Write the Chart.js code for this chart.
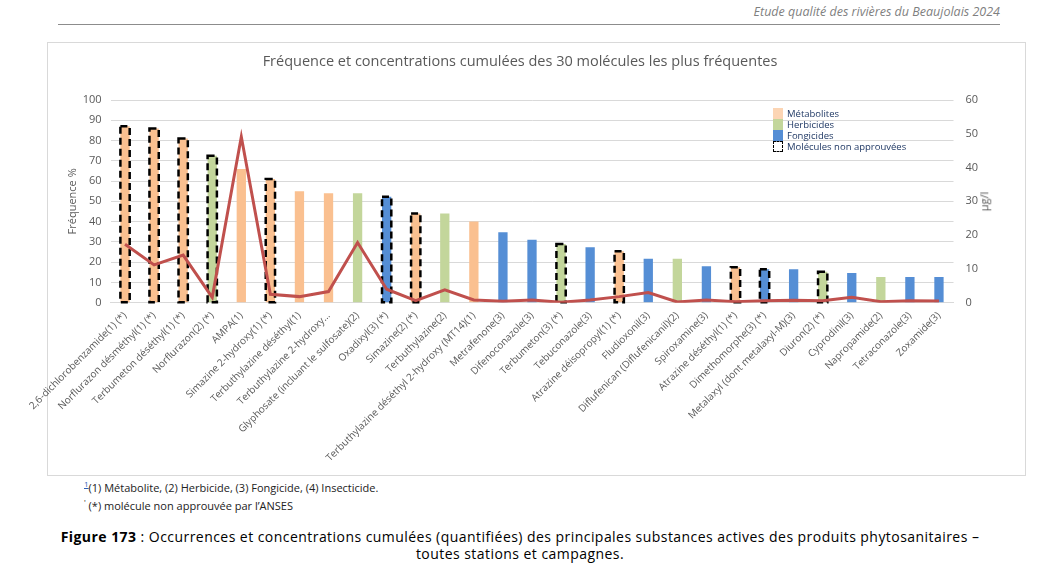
<!DOCTYPE html>
<html lang="fr">
<head>
<meta charset="utf-8">
<script src="https://cdn.jsdelivr.net/npm/chart.js@4.4.1/dist/chart.umd.min.js"></script>
<style>
  body { margin: 0; width: 1044px; height: 575px; background: #fff; font-family: "Open Sans", sans-serif; position: relative; overflow: hidden; }
  .abs { position: absolute; }
  #header { right: 44px; top: 3px; font-size: 12.5px; font-style: italic; color: #7f7f7f; }
  #header-line { left: 58px; top: 24px; width: 942px; height: 1px; background: #8c8c8c; }
  #frame { left: 47px; top: 42px; width: 977px; height: 432px; border: 1px solid #d9d9d9; }
  #chart-wrap { left: 20px; top: 42px; width: 1005px; height: 433px; }
  #title { left: 47px; top: 51px; width: 946px; text-align: center; font-size: 14.5px; color: #595959; }
  #unit { left: 974px; top: 194px; font-size: 11px; color: #595959; transform: rotate(-90deg); transform-origin: center; }
  #legend { left: 773px; top: 108px; font-size: 9.5px; color: #1f3864; line-height: 11px; }
  #legend div { display: flex; align-items: center; height: 11px; }
  #legend span.sw { display: inline-block; width: 10px; height: 11px; margin-right: 4px; box-sizing: border-box; }
  #notes { left: 84px; top: 477px; font-size: 11px; color: #222; line-height: 14px; }
  #notes .ref { color: #2e5fb5; text-decoration: underline; font-size: 8px; vertical-align: super; }
  #caption { left: 20px; top: 528px; width: 1000px; text-align: center; font-size: 14px; letter-spacing: 0.45px; color: #000; line-height: 17px; }
</style>
</head>
<body>
<div id="header" class="abs">Etude qualité des rivières du Beaujolais 2024</div>
<div id="header-line" class="abs"></div>
<div id="frame" class="abs"></div>
<div id="chart-wrap" class="abs"><canvas id="chart" width="1005" height="433"></canvas></div>
<div id="title" class="abs">Fréquence et concentrations cumulées des 30 molécules les plus fréquentes</div>
<div id="unit" class="abs">µg/l</div>
<div id="legend" class="abs">
  <div><span class="sw" style="background:#fcd5b4"></span>Métabolites</div>
  <div><span class="sw" style="background:#c3d69b"></span>Herbicides</div>
  <div><span class="sw" style="background:#558ed5"></span>Fongicides</div>
  <div><span class="sw" style="border:1.5px dashed #000"></span>Molécules non approuvées</div>
</div>
<div id="notes" class="abs">
  <div><span class="ref">1</span>(1) Métabolite, (2) Herbicide, (3) Fongicide, (4) Insecticide.</div>
  <div><span style="font-size:8px;vertical-align:super">'</span> (*) molécule non approuvée par l’ANSES</div>
</div>
<div id="caption" class="abs"><b>Figure 173</b> : Occurrences et concentrations cumulées (quantifiées) des principales substances actives des produits phytosanitaires –<br>toutes stations et campagnes.</div>

<script>
// Data
const molecules = [
    '2,6-dichlorobenzamide(1) (*)', 'Norflurazon désméthyl(1) (*)', 'Terbumeton déséthyl(1) (*)',
    'Norflurazon(2) (*)', 'AMPA(1)', 'Simazine 2-hydroxy(1) (*)', 'Terbuthylazine déséthyl(1)',
    'Terbuthylazine 2-hydroxy…', 'Glyphosate (incluant le sulfosate)(2)', 'Oxadixyl(3) (*)',
    'Simazine(2) (*)', 'Terbuthylazine(2)', 'Terbuthylazine déséthyl 2-hydroxy (MT14)(1)',
    'Metrafenone(3)', 'Difenoconazole(3)', 'Terbumeton(3) (*)', 'Tebuconazole(3)',
    'Atrazine déisopropyl(1) (*)', 'Fludioxonil(3)', 'Diflufenican (Diflufenicanil)(2)',
    'Spiroxamine(3)', 'Atrazine déséthyl(1) (*)', 'Dimethomorphe(3) (*)',
    'Metalaxyl (dont metalaxyl-M)(3)', 'Diuron(2) (*)', 'Cyprodinil(3)', 'Napropamide(2)',
    'Tetraconazole(3)', 'Zoxamide(3)'
];
const frequency = [87, 86, 81, 72.5, 66, 61, 55, 54, 54, 52.3, 44, 44, 40, 34.7, 31, 29, 27.3,
    25.4, 21.7, 21.7, 18, 17.5, 16.5, 16.5, 15.3, 14.6, 12.7, 12.7, 12.7];
const concentration = [17.3, 11.2, 14.1, 1.6, 49.1, 2.5, 1.8, 3.3, 17.8, 4.0, 0.6, 3.8, 0.8, 0.4,
    0.8, 0.1, 0.8, 1.8, 3.0, 0.2, 0.8, 0.3, 0.6, 0.7, 0.6, 1.6, 0.3, 0.6, 0.5];
// M = métabolite, H = herbicide, F = fongicide
const family = ['M', 'M', 'M', 'H', 'M', 'M', 'M', 'M', 'H', 'F', 'M', 'H', 'M', 'F', 'F', 'H', 'F',
    'M', 'F', 'H', 'F', 'M', 'F', 'F', 'H', 'F', 'H', 'F', 'F'];
const nonApproved = [1, 1, 1, 1, 0, 1, 0, 0, 0, 1, 1, 0, 0, 0, 0, 1, 0, 1, 0, 0, 0, 1, 1, 0, 1, 0, 0, 0, 0];
const freqTicks = [0, 10, 20, 30, 40, 50, 60, 70, 80, 90, 100];
const concTicks = [0, 10, 20, 30, 40, 50, 60];

const familyColors = { M: '#fac090', H: '#c3d69b', F: '#558ed5' };

// Dashed outline for non approved molecules (bar element has no borderDash)
const dashedOutline = {
    id: 'dashedOutline',
    afterDatasetDraw(chart, args) {
        if (args.index !== 1) return;
        const ctx = chart.ctx;
        ctx.save();
        ctx.strokeStyle = '#000';
        ctx.lineWidth = 2.5;
        ctx.setLineDash([7, 4]);
        args.meta.data.forEach((bar, i) => {
            if (!nonApproved[i]) return;
            const w = bar.width;
            ctx.strokeRect(bar.x - w / 2, bar.y, w, bar.base - bar.y);
        });
        ctx.restore();
    }
};

const tickFont = { family: 'Open Sans', size: 11 };

new Chart(document.getElementById('chart'), {
    data: {
        labels: molecules,
        datasets: [{
            type: 'line',
            label: 'Concentration cumulée',
            data: concentration,
            yAxisID: 'y1',
            borderColor: '#c0504d',
            borderWidth: 3,
            pointRadius: 0,
            tension: 0,
            order: 0
        }, {
            type: 'bar',
            label: 'Fréquence',
            data: frequency,
            yAxisID: 'y',
            backgroundColor: family.map(f => familyColors[f]),
            borderWidth: 0,
            barPercentage: 0.32,
            categoryPercentage: 1,
            order: 1
        }]
    },
    options: {
        responsive: false,
        animation: false,
        layout: { padding: { top: 58, left: 0, right: 0, bottom: 0 } },
        plugins: {
            legend: { display: false },
            tooltip: { enabled: false }
        },
        scales: {
            x: {
                grid: { display: false, drawTicks: false },
                border: { color: '#d9d9d9' },
                ticks: {
                    autoSkip: false, minRotation: 45, maxRotation: 45, padding: 7,
                    color: '#595959', font: { family: 'Open Sans', size: 10 }
                },
                afterFit(scale) {
                    scale.height = 172.3;
                    scale.paddingLeft = 0;
                    scale.paddingRight = 0;
                }
            },
            y: {
                position: 'left',
                min: 0, max: 100,
                afterBuildTicks(scale) { scale.ticks = freqTicks.map(v => ({ value: v })); },
                grid: { color: '#d9d9d9', drawTicks: false },
                border: { display: false },
                ticks: { padding: 9, color: '#595959', font: tickFont },
                title: {
                    display: true, text: 'Fréquence %', color: '#595959',
                    font: tickFont, padding: { top: 46.4, bottom: 0 }
                },
                afterFit(scale) { scale.width = 90.5; }
            },
            y1: {
                position: 'right',
                min: 0, max: 60,
                afterBuildTicks(scale) { scale.ticks = concTicks.map(v => ({ value: v })); },
                grid: { display: false, drawTicks: false },
                border: { display: false },
                ticks: { padding: 12, color: '#595959', font: tickFont },
                afterFit(scale) { scale.width = 71.5; }
            }
        }
    },
    plugins: [dashedOutline]
});
</script>
</body>
</html>
